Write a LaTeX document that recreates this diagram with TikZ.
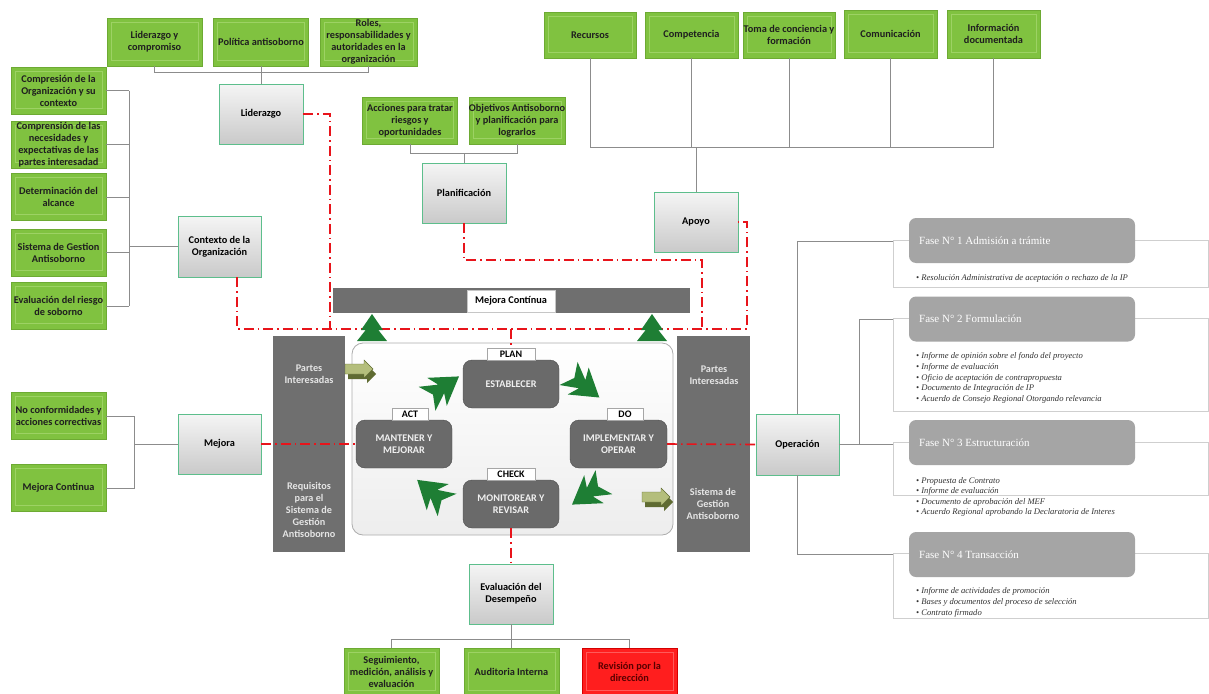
\documentclass[tikz,border=0pt]{standalone}
\usepackage{fontspec}
\setmainfont{Carlito}
\newfontfamily\fasefont{Liberation Serif}
\usetikzlibrary{calc}

\definecolor{boxgreen}{HTML}{80C240}
\definecolor{boxgreenline}{HTML}{6DAA33}
\definecolor{boxgreeninner}{HTML}{9DD264}
\definecolor{boxred}{HTML}{FF1E1E}
\definecolor{boxredline}{HTML}{D40000}
\definecolor{boxredinner}{HTML}{FF5A5A}
\definecolor{catline}{HTML}{5DBE8C}
\definecolor{barfill}{HTML}{6F6F6F}
\definecolor{stepfill}{HTML}{6A6A6A}
\definecolor{cyclegreen}{HTML}{1E7E34}
\definecolor{olivefront}{HTML}{B4BE7C}
\definecolor{oliveside}{HTML}{5F6B32}
\definecolor{linkgray}{HTML}{8C8C8C}
\definecolor{pdcared}{HTML}{E8141B}
\definecolor{faseheadfill}{HTML}{A5A5A5}
\definecolor{faseline}{HTML}{CFCFCF}

% green chevron arrows of the PDCA cycle
\newcommand\cyclearrow[3]{%
  \fill[cyclegreen, shift={(#1,#2)}, rotate=#3, scale=1.22]
    (18pt,0pt) -- (-4pt,14pt) -- (2pt,0pt) -- (-4pt,-14pt) -- cycle
    (8pt,0pt) -- (-14pt,12pt) -- (-8pt,0pt) -- (-14pt,-12pt) -- cycle;}
% stacked triangles pointing up to the improvement bar
\newcommand\uptree[2]{%
  \fill[cyclegreen, shift={(#1,#2)}]
    (0,0) -- (11,16) -- (-11,16) -- cycle
    (0,8) -- (15,27) -- (-15,27) -- cycle;}
% small 3D block arrow
\newcommand\olivearrow[2]{%
  \fill[oliveside, shift={(#1+3,#2+5)}]
    (0,4) -- (19,4) -- (19,0) -- (28,9) -- (19,18) -- (19,14) -- (0,14) -- cycle;
  \fill[olivefront, draw=oliveside, line width=0.4pt, shift={(#1,#2)}]
    (0,4) -- (19,4) -- (19,0) -- (28,9) -- (19,18) -- (19,14) -- (0,14) -- cycle;}

\begin{document}
\begin{tikzpicture}[x=1pt,y=-1pt,
  every node/.style={inner sep=0pt, align=center},
  greenbox/.style={draw=boxgreenline, fill=boxgreen, line width=0.5pt,
    minimum width=95pt, minimum height=47pt,
    font=\fontsize{10.3}{12}\selectfont\bfseries, text=black!88,
    path picture={\draw[boxgreeninner, line width=0.5pt]
      ([shift={(4pt,6pt)}]path picture bounding box.south west) rectangle
      ([shift={(-4pt,-4pt)}]path picture bounding box.north east);}},
  redbox/.style={greenbox, draw=boxredline, fill=boxred, text=red!35!black,
    path picture={\draw[boxredinner, line width=0.5pt]
      ([shift={(4pt,6pt)}]path picture bounding box.south west) rectangle
      ([shift={(-4pt,-4pt)}]path picture bounding box.north east);}},
  catbox/.style={draw=catline, line width=0.7pt, top color=gray!8, bottom color=gray!42,
    minimum width=84pt, minimum height=60pt, font=\fontsize{10.3}{12}\selectfont\bfseries},
  sidebar/.style={fill=barfill, minimum width=72pt, minimum height=216pt},
  bartext/.style={font=\fontsize{10.2}{12}\selectfont\bfseries, text=gray!20},
  stepbox/.style={fill=stepfill, draw=gray!60!black, line width=0.4pt, rounded corners=9pt,
    minimum width=96pt, minimum height=48pt, font=\fontsize{10.2}{12}\selectfont\bfseries, text=gray!12},
  steplabel/.style={fill=white, draw=gray!70, line width=0.6pt, minimum height=12pt,
    font=\fontsize{10}{11}\selectfont\bfseries},
  link/.style={draw=linkgray, line width=0.8pt},
  redlink/.style={draw=pdcared, line width=1.6pt, dash pattern=on 10pt off 4pt on 1.5pt off 4pt},
  faseframe/.style={draw=faseline, fill=white, line width=0.7pt, minimum width=315pt},
  fasehead/.style={fill=faseheadfill, rounded corners=7pt, minimum width=226pt, minimum height=45pt},
  fasetitle/.style={font=\fasefont\fontsize{11}{13}\selectfont, text=white, anchor=west},
  faseitem/.style={font=\fasefont\itshape\fontsize{8.6}{10}\selectfont, text=black!80, anchor=base west},
]
\useasboundingbox (0,0) rectangle (1209,693);

% ---------- Liderazgo ----------
\node[greenbox, minimum height=48pt] (lc) at (154.5,42) {Liderazgo y\\compromiso};
\node[greenbox, minimum height=48pt] (pa) at (261,42) {Política antisoborno};
\node[greenbox, minimum height=48pt, minimum width=97pt] (ro) at (368.5,42) {Roles,\\responsabilidades y\\autoridades en la\\organización};
\node[catbox] (lid) at (261,114) {Liderazgo};
\coordinate (ldbus) at (0,72);
\draw[link] (lc.south) -- (lc.south |- ldbus) -- (ro.south |- ldbus) -- (ro.south);
\draw[link] (pa.south) -- (lid.north);

% ---------- Contexto de la Organizacion ----------
\node[greenbox] (c1) at (58.5,90.5) {Compresión de la\\Organización y su\\contexto};
\node[greenbox] (c2) at (58.5,144.5) {Comprensión de las\\necesidades y\\expectativas de las\\partes interesadad};
\node[greenbox] (c3) at (58.5,197) {Determinación del\\alcance};
\node[greenbox] (c4) at (58.5,252.5) {Sistema de Gestion\\Antisoborno};
\node[greenbox] (c5) at (58.5,306) {Evaluación del riesgo\\de soborno};
\node[catbox, minimum width=83pt, minimum height=61pt] (ctx) at (219.5,246.5) {Contexto de la\\Organización};
\coordinate (ctxbus) at (129,0);
\foreach \n in {c1,c2,c3,c4,c5} \draw[link] (\n.east) -- (\n.east -| ctxbus);
\draw[link] (c1.east -| ctxbus) -- (c5.east -| ctxbus);
\draw[link] (ctx.west) -- (ctx.west -| ctxbus);

% ---------- Planificacion ----------
\node[greenbox] (ac) at (410,120.5) {Acciones para tratar\\riesgos y\\oportunidades};
\node[greenbox] (ob) at (517,120.5) {Objetivos Antisoborno\\y planificación para\\lograrlos};
\node[catbox] (pl) at (464,193) {Planificación};
\coordinate (plbus) at (0,153);
\draw[link] (ac.south) -- (ac.south |- plbus) -- (ob.south |- plbus) -- (ob.south);
\draw[link] (pl.north) -- (pl.north |- plbus);

% ---------- Apoyo ----------
\node[greenbox, minimum width=92pt, minimum height=46pt] (re) at (590,35) {Recursos};
\node[greenbox, minimum width=93pt, minimum height=46pt] (co) at (691.5,35) {Competencia};
\node[greenbox, minimum width=92pt, minimum height=46pt] (tc) at (789,35) {Toma de conciencia y\\formación};
\node[greenbox, minimum width=93pt, minimum height=48pt] (cm) at (890.5,34) {Comunicación};
\node[greenbox, minimum width=93pt, minimum height=48pt] (inf) at (993.5,34) {Información\\documentada};
\node[catbox] (ap) at (696,222) {Apoyo};
\coordinate (supbus) at (0,147);
\foreach \n in {re,co,tc,cm,inf} \draw[link] (\n.south) -- (\n.south |- supbus);
\draw[link] (re.south |- supbus) -- (inf.south |- supbus);
\draw[link] (ap.north) -- (ap.north |- supbus);

% ---------- Mejora continua bar ----------
\node[fill=barfill, minimum width=357pt, minimum height=25pt] (mcbar) at (511.5,300.5) {};
\node[fill=white, draw=gray!45, minimum width=88pt, minimum height=22pt,
  font=\fontsize{10.3}{12}\selectfont\bfseries] (mclab) at (511,301) {Mejora Contínua};

% ---------- PDCA cycle ----------
\node[sidebar] (lb) at (309,444) {};
\node[sidebar, minimum width=73pt] (rb) at (713.5,444) {};
\node[bartext] (lbt) at (309,374) {Partes\\Interesadas};
\node[bartext] (lbb) at (309,510) {Requisitos\\para el\\Sistema de\\Gestión\\Antisoborno};
\node[bartext] (rbt) at (714,375) {Partes\\Interesadas};
\node[bartext] (rbb) at (713,504) {Sistema de\\Gestión\\Antisoborno};

\node[draw=gray!65, line width=0.8pt, rounded corners=11pt, top color=white, bottom color=gray!14,
  minimum width=321pt, minimum height=192pt] (cyc) at (512.5,439) {};

\node[stepbox] (est) at (511,384) {ESTABLECER};
\node[stepbox] (man) at (404,444) {MANTENER Y\\MEJORAR};
\node[stepbox, minimum width=97pt] (imp) at (618.5,444) {IMPLEMENTAR Y\\OPERAR};
\node[stepbox] (mon) at (511,504) {MONITOREAR Y\\REVISAR};
\node[steplabel, minimum width=48pt] (plan) at (511,354) {PLAN};
\node[steplabel, minimum width=36pt] (act) at (410,414) {ACT};
\node[steplabel, minimum width=36pt] (do) at (625,414) {DO};
\node[steplabel, minimum width=48pt] (chk) at (511,474) {CHECK};

% ---------- Mejora ----------
\node[greenbox] (nc) at (58.5,416) {No conformidades y\\acciones correctivas};
\node[greenbox] (mc) at (58.5,488) {Mejora Continua};
\node[catbox, minimum width=83pt] (mej) at (219.5,444) {Mejora};
\coordinate (mjbus) at (134,0);
\draw[link] (nc.east) -- (nc.east -| mjbus) -- (mc.east -| mjbus) -- (mc.east);
\draw[link] (mej.west) -- (mej.west -| mjbus);

% ---------- Evaluacion del desempeno ----------
\node[catbox] (ev) at (511,594) {Evaluación del\\Desempeño};
\node[greenbox, minimum height=48pt] (sg) at (391.5,672) {Seguimiento,\\medición, análisis y\\evaluación};
\node[greenbox, minimum height=48pt] (ai) at (511.5,672) {Auditoria Interna};
\node[redbox, minimum height=48pt] (rd) at (629.5,672) {Revisión por la\\dirección};
\coordinate (evbus) at (0,639);
\draw[link] (sg.north) -- (sg.north |- evbus) -- (rd.north |- evbus) -- (rd.north);
\draw[link] (ai.north) -- (ai.north |- evbus);
\draw[link] (ev.south) -- (ev.south |- evbus);

% ---------- Operacion and phases ----------
\node[catbox, minimum width=83pt, minimum height=61pt] (op) at (797.5,444.5) {Operación};

\node[faseframe, minimum height=47pt] (f1) at (1050.5,263.5) {};
\node[fasehead] (f1h) at (1022,240.5) {};
\node[fasetitle] (f1t) at (919,240.5) {Fase N° 1 Admisión a trámite};
\node[faseitem] (f1a) at (916,280) {• Resolución Administrativa de aceptación o rechazo de la IP};

\node[faseframe, minimum height=93pt] (f2) at (1050.5,364.5) {};
\node[fasehead] (f2h) at (1022,319) {};
\node[fasetitle] (f2t) at (919,319) {Fase N° 2 Formulación};
\node[faseitem] (f2a) at (916,358) {• Informe de opinión sobre el fondo del proyecto};
\node[faseitem] (f2b) at (916,369) {• Informe de evaluación};
\node[faseitem] (f2c) at (916,380) {• Oficio de aceptación de contrapropuesta};
\node[faseitem] (f2d) at (916,390.5) {• Documento de Integración de IP};
\node[faseitem] (f2e) at (916,401) {• Acuerdo de Consejo Regional Otorgando relevancia};

\node[faseframe, minimum height=53pt] (f3) at (1050.5,468.5) {};
\node[fasehead] (f3h) at (1022,442.5) {};
\node[fasetitle] (f3t) at (919,442.5) {Fase N° 3 Estructuración};
\node[faseitem] (f3a) at (916,483) {• Propuesta de Contrato};
\node[faseitem] (f3b) at (916,493.5) {• Informe de evaluación};
\node[faseitem] (f3c) at (916,504) {• Documento de aprobación del MEF};
\node[faseitem] (f3d) at (916,514.5) {• Acuerdo Regional aprobando la Declaratoria de Interes};

\node[faseframe, minimum height=65pt] (f4) at (1050.5,585.5) {};
\node[fasehead] (f4h) at (1022,554.5) {};
\node[fasetitle] (f4t) at (919,554.5) {Fase N° 4 Transacción};
\node[faseitem] (f4a) at (916,593) {• Informe de actividades de promoción};
\node[faseitem] (f4b) at (916,604) {• Bases y documentos del proceso de selección};
\node[faseitem] (f4c) at (916,615) {• Contrato firmado};

\coordinate (f1in) at ([yshift=-2pt]f1.north west);
\coordinate (f2in) at ([yshift=-2pt]f2.north west);
\coordinate (f4in) at ([yshift=-2pt]f4.north west);
\coordinate (opbus) at (859,0);
\draw[link] (op.north) |- (f1in);
\draw[link] (op.south) |- (f4in);
\draw[link] (op.east) -- (op.east -| f3.west);
\draw[link] (f2in) -- (f2in -| opbus) -- (op.east -| opbus);

% ---------- red dash-dot links ----------
\coordinate (rdl) at (330,329);
\coordinate (rdctx) at (237,329);
\coordinate (rdr) at (747,329);
\coordinate (rdpl) at (702,260);
\coordinate (rdp) at (702,329);
\coordinate (rdplan) at (511,329);
\draw[redlink] (lid.east) -| (rdl);
\draw[redlink] ([xshift=17.5pt]ctx.south) -- (rdctx) -- (rdr) |- (ap.east);
\draw[redlink] (pl.south) |- (rdpl) -- (rdp);
\draw[redlink] (rdplan) -- (plan.north);
\draw[redlink] (mej.east) -- (man.west);
\draw[redlink] (imp.east) -- (op.west);
\draw[redlink] (mon.south) -- (ev.north);

% ---------- arrows ----------
\uptree{372}{314}
\uptree{652}{314}
\cyclearrow{441}{389}{35}
\cyclearrow{582}{384}{-38}
\cyclearrow{590}{492}{215}
\cyclearrow{434}{494}{140}
\olivearrow{345}{360}
\olivearrow{642}{488}

\end{tikzpicture}
\end{document}
